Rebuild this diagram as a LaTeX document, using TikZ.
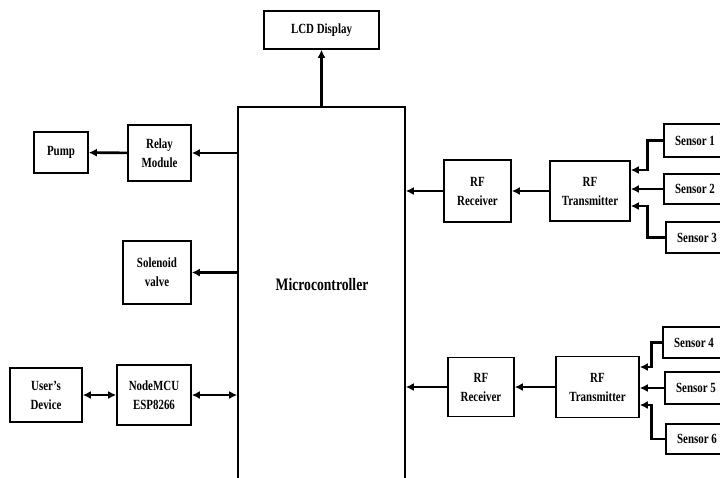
\documentclass[tikz,border=0pt]{standalone}
\usepackage{fontspec}
\setmainfont{Liberation Serif}[FakeStretch=0.78]
\usepackage{tikz}
\usetikzlibrary{positioning,arrows.meta}

\begin{document}
\begin{tikzpicture}[x=1pt,y=-1pt,
  b/.style={draw=black,line width=1.6pt,align=center,inner sep=2pt,font=\fontsize{14}{19}\selectfont\bfseries},
  a/.style={-{Latex[length=8pt,width=8pt]},line width=2.6pt},
  ab/.style={{Latex[length=8pt,width=8pt]}-{Latex[length=8pt,width=8pt]},line width=2.6pt}]
\useasboundingbox (0,0) rectangle (720,477);
\clip (0,0) rectangle (720,477);
% centre column
\node[b,minimum width=115pt,minimum height=38pt] (lcd) at (321.5,30) {LCD Display};
\node[draw=black,line width=1.6pt,minimum width=167pt,minimum height=383pt] (mcu) at (321.5,298.5) {};
\node[font=\fontsize{17.5}{19}\selectfont\bfseries] (mcutext) at (322,285) {Microcontroller};
% outputs on the left
\node[b,minimum width=54pt,minimum height=41pt] (pump) at (61,152.5) {Pump};
\node[b,minimum width=63pt,minimum height=56pt] (relay) at (159.5,153) {Relay\\Module};
\node[b,minimum width=68pt,minimum height=63pt] (sol) at (157,272.5) {Solenoid\\valve};
\node[b,minimum width=72pt,minimum height=54pt] (user) at (46,395) {User's\\Device};
\node[b,minimum width=74pt,minimum height=60pt] (esp) at (154,395) {NodeMCU\\ESP8266};
% first RF link
\node[b,minimum width=67pt,minimum height=62pt] (rx1) at (477.5,191) {RF\\Receiver};
\node[b,minimum width=80pt,minimum height=60pt] (tx1) at (590,191) {RF\\Transmitter};
\node[b,minimum width=62pt,minimum height=33pt] (s1) at (695,140.5) {Sensor 1};
\node[b,minimum width=62pt,minimum height=30pt] (s2) at (695,189) {Sensor 2};
\node[b,minimum width=62pt,minimum height=31pt] (s3) at (697,237.5) {Sensor 3};
% second RF link
\node[b,minimum width=66pt,minimum height=59pt] (rx2) at (481,387) {RF\\Receiver};
\node[b,minimum width=83pt,minimum height=61pt] (tx2) at (597.5,387) {RF\\Transmitter};
\node[b,minimum width=62pt,minimum height=31pt] (s4) at (694,342.5) {Sensor 4};
\node[b,minimum width=62pt,minimum height=32pt] (s5) at (696,388) {Sensor 5};
\node[b,minimum width=62pt,minimum height=30pt] (s6) at (697,439) {Sensor 6};
% connectors
\draw[a] (lcd.south |- mcu.north) -- (lcd.south);
\draw[a] (mcu.west |- relay) -- (relay);
\draw[a] (relay) -- (pump);
\draw[a] (mcu.west |- sol) -- (sol);
\draw[ab] (user) -- (esp);
\draw[ab] (esp) -- (mcu.west |- esp);
\draw[a] (rx1) -- (mcu.east |- rx1);
\draw[a] (tx1) -- (rx1);
\draw[a] (s1.west) -- ++(-16,0) |- ([yshift=21pt]tx1.east);
\draw[a] (s2.west) -- (tx1.east |- s2.west);
\draw[a] (s3.west) -- ++(-18,0) |- ([yshift=-15pt]tx1.east);
\draw[a] (rx2) -- (mcu.east |- rx2);
\draw[a] (tx2) -- (rx2);
\draw[a] (s4.west) -- ++(-11,0) |- ([yshift=20pt]tx2.east);
\draw[a] (s5.west) -- (tx2.east |- s5.west);
\draw[a] (s6.west) -- ++(-14,0) |- ([yshift=-18pt]tx2.east);
\end{tikzpicture}
\end{document}
